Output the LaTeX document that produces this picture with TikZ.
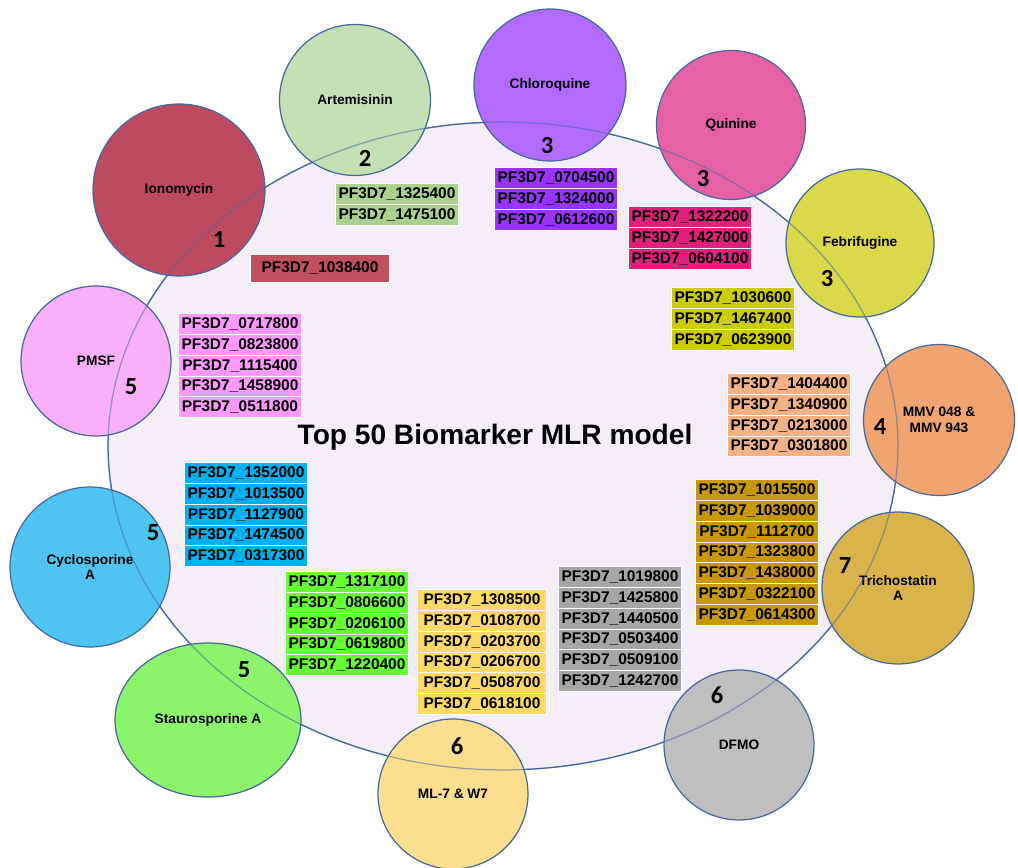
\documentclass[tikz,border=0pt]{standalone}
\usepackage{fontspec}
\setmainfont{Liberation Sans}
\newfontfamily\digitfont{Carlito}
\usetikzlibrary{shapes.geometric}
\definecolor{ringblue}{HTML}{46689E}
\definecolor{lavender}{HTML}{F3EEF8}
% drug circles
\definecolor{ionofill}{HTML}{BE4A60}
\definecolor{artfill}{HTML}{C5E0B4}
\definecolor{chlfill}{HTML}{B36BFF}
\definecolor{quifill}{HTML}{E661A4}
\definecolor{febfill}{HTML}{D9D94A}
\definecolor{mmvfill}{HTML}{F0A470}
\definecolor{trifill}{HTML}{D9B44A}
\definecolor{dfmofill}{HTML}{BFBFBF}
\definecolor{mlfill}{HTML}{FBDF8E}
\definecolor{stafill}{HTML}{8CF46A}
\definecolor{cycfill}{HTML}{4FC4F0}
\definecolor{pmsffill}{HTML}{FAB0F8}
% gene boxes
\definecolor{ionobox}{HTML}{C0505F}
\definecolor{artbox}{HTML}{A9D18E}
\definecolor{chlbox}{HTML}{9933FF}
\definecolor{quibox}{HTML}{E0207A}
\definecolor{febbox}{HTML}{CCCC00}
\definecolor{mmvbox}{HTML}{F4B183}
\definecolor{tribox}{HTML}{C99700}
\definecolor{dfmobox}{HTML}{A6A6A6}
\definecolor{mlbox}{HTML}{FFD966}
\definecolor{stabox}{HTML}{66FF33}
\definecolor{cycbox}{HTML}{00B0F0}
\definecolor{pmsfbox}{HTML}{FF99FF}

\begin{document}
\begin{tikzpicture}[x=0.02cm,y=-0.02cm,
  every node/.style={align=center},
  ring/.style={ellipse,minimum width=15.8cm,minimum height=12.96cm,line width=0.7pt},
  drug/.style={circle,draw=ringblue,line width=0.7pt,inner sep=0pt,font=\fontsize{7.8}{9}\selectfont\bfseries},
  gene/.style={draw=white,line width=0.5pt,minimum width=2.46cm,minimum height=0.416cm,inner sep=0pt,font=\fontsize{8.8}{10}\selectfont\bfseries},
  hits/.style={font=\digitfont\fontsize{14}{16}\selectfont\bfseries}]
  \useasboundingbox (0,0) rectangle (1018,868);

  \node[ring,draw=ringblue,fill=lavender] (model) at (503,446) {};
  \node[font=\fontsize{16}{18}\selectfont\bfseries] (title) at (495,437) {Top 50 Biomarker MLR model};

  % drugs round the model
  \node[drug,fill=ionofill,minimum size=3.44cm] (iono) at (179,190) {Ionomycin};
  \node[drug,fill=artfill,minimum size=3.02cm] (art) at (355,100) {Artemisinin};
  \node[drug,fill=chlfill,minimum size=3.04cm] (chl) at (550,85) {Chloroquine};
  \node[drug,fill=quifill,minimum size=2.98cm] (qui) at (731,125) {Quinine};
  \node[drug,fill=febfill,minimum size=2.96cm] (feb) at (860,243) {Febrifugine};
  \node[drug,fill=mmvfill,minimum size=3.02cm] (mmv) at (939,420) {MMV 048 \&\\MMV 943};
  \node[drug,fill=trifill,minimum size=3.04cm] (tri) at (898,588) {Trichostatin\\A};
  \node[drug,fill=dfmofill,minimum size=3.0cm] (dfmo) at (739,745) {DFMO};
  \node[drug,fill=mlfill,minimum size=3.0cm] (ml) at (453,794) {ML-7 \& W7};
  \node[drug,ellipse,fill=stafill,minimum width=3.72cm,minimum height=3.08cm] (sta) at (208,720) {Staurosporine A};
  \node[drug,fill=cycfill,minimum size=3.2cm] (cyc) at (90,567) {Cyclosporine\\A};
  \node[drug,fill=pmsffill,minimum size=3.0cm] (pmsf) at (96,361) {PMSF};

  % the model's outline shows through the circles
  \node[ring,draw=ringblue,draw opacity=0.55] (modelline) at (model) {};

  % number of genes per drug
  \node[hits] (n1) at (219,240) {1};
  \node[hits] (n2) at (365,158) {2};
  \node[hits] (n3a) at (547,146) {3};
  \node[hits] (n3b) at (703,179) {3};
  \node[hits] (n3c) at (827,279) {3};
  \node[hits] (n4) at (880,427) {4};
  \node[hits] (n7) at (845,566) {7};
  \node[hits] (n6a) at (717,695) {6};
  \node[hits] (n6b) at (457,746) {6};
  \node[hits] (n5a) at (244,670) {5};
  \node[hits] (n5b) at (153,533) {5};
  \node[hits] (n5c) at (131,387) {5};

  % gene lists
  \node[gene,fill=ionobox,minimum width=2.78cm,minimum height=0.56cm] (iono0) at (320,268) {PF3D7\_1038400};
  \foreach \g [count=\i from 0] in {1325400,1475100}
    \node[gene,fill=artbox] (art\i) at (397,194+20.8*\i) {PF3D7\_\g};
  \foreach \g [count=\i from 0] in {0704500,1324000,0612600}
    \node[gene,fill=chlbox] (chl\i) at (556,178+20.8*\i) {PF3D7\_\g};
  \foreach \g [count=\i from 0] in {1322200,1427000,0604100}
    \node[gene,fill=quibox] (qui\i) at (690,217+20.8*\i) {PF3D7\_\g};
  \foreach \g [count=\i from 0] in {1030600,1467400,0623900}
    \node[gene,fill=febbox] (feb\i) at (733,298+20.8*\i) {PF3D7\_\g};
  \foreach \g [count=\i from 0] in {1404400,1340900,0213000,0301800}
    \node[gene,fill=mmvbox] (mmv\i) at (789,384+20.8*\i) {PF3D7\_\g};
  \foreach \g [count=\i from 0] in {1015500,1039000,1112700,1323800,1438000,0322100,0614300}
    \node[gene,fill=tribox] (tri\i) at (757,490+20.8*\i) {PF3D7\_\g};
  \foreach \g [count=\i from 0] in {1019800,1425800,1440500,0503400,0509100,1242700}
    \node[gene,fill=dfmobox] (dfmo\i) at (620,577+20.8*\i) {PF3D7\_\g};
  \foreach \g [count=\i from 0] in {1308500,0108700,0203700,0206700,0508700,0618100}
    \node[gene,fill=mlbox,minimum width=2.58cm] (ml\i) at (482,600+20.8*\i) {PF3D7\_\g};
  \foreach \g [count=\i from 0] in {1317100,0806600,0206100,0619800,1220400}
    \node[gene,fill=stabox] (sta\i) at (347,582+20.8*\i) {PF3D7\_\g};
  \foreach \g [count=\i from 0] in {1352000,1013500,1127900,1474500,0317300}
    \node[gene,fill=cycbox] (cyc\i) at (246,473+20.8*\i) {PF3D7\_\g};
  \foreach \g [count=\i from 0] in {0717800,0823800,1115400,1458900,0511800}
    \node[gene,fill=pmsfbox] (pmsf\i) at (240,324+20.8*\i) {PF3D7\_\g};
\end{tikzpicture}
\end{document}
